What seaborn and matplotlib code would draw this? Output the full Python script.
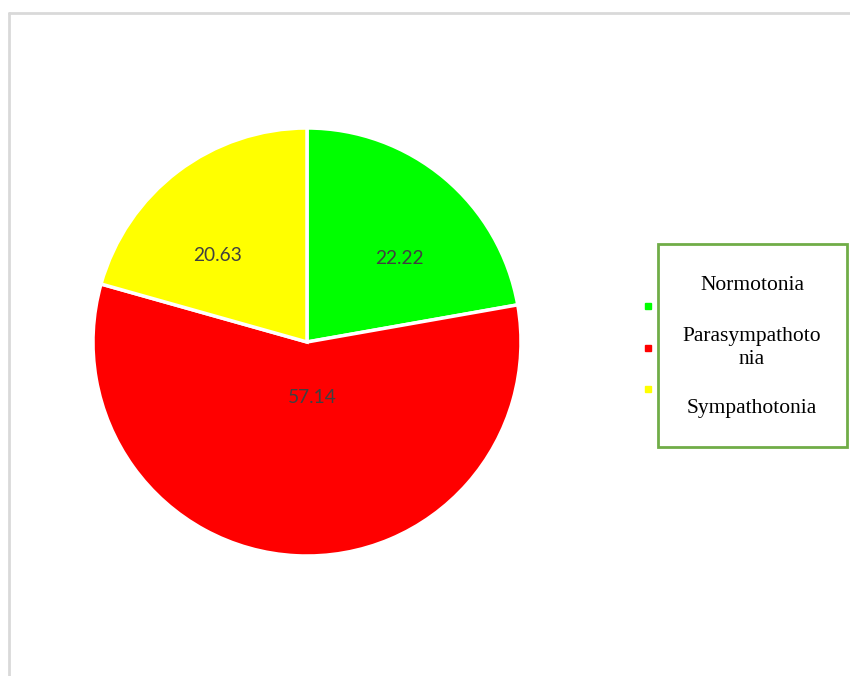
import matplotlib
matplotlib.use("Agg")
import matplotlib.pyplot as plt
import numpy as np
import seaborn as sns
from matplotlib.patches import Rectangle
from matplotlib.lines import Line2D

sns.set_theme(style="white")

categories = ["Normotonia", "Parasympathotonia", "Sympathotonia"]
legend_labels = ["Normotonia", "Parasympathoto\nnia", "Sympathotonia"]
values = [22.22, 57.14, 20.63]
value_labels = ["22.22", "57.14", "20.63"]
colors = ["#00ff00", "#ff0000", "#ffff00"]
label_dist = [0.59, 0.25, 0.59]
label_shift = [-7, 9, 8]

W, H = 850, 676
fig = plt.figure(figsize=(W / 100, H / 100), dpi=100)
fig.patch.set_facecolor("white")

# outer light-gray frame (top and left edges)
fig.add_artist(Line2D([9 / W, 1.0], [1 - 12.5 / H, 1 - 12.5 / H], color="#d9d9d9", lw=2, transform=fig.transFigure))
fig.add_artist(Line2D([9 / W, 9 / W], [0, 1 - 12.5 / H], color="#d9d9d9", lw=2, transform=fig.transFigure))

cx, cy, r = 307, 342, 214
ax = fig.add_axes([(cx - r) / W, (H - cy - r) / H, 2 * r / W, 2 * r / H])
wedges, _ = ax.pie(values, colors=colors, startangle=90, counterclock=False,
                   wedgeprops=dict(edgecolor="white", linewidth=2.5))
ax.set_xlim(-1, 1)
ax.set_ylim(-1, 1)
ax.set_aspect("equal")
ax.axis("off")

for w, lab, d, s in zip(wedges, value_labels, label_dist, label_shift):
    ang = np.deg2rad((w.theta1 + w.theta2) / 2 + s)
    ax.text(d * np.cos(ang), d * np.sin(ang) - 0.01, lab, ha="center", va="center",
            fontsize=13.8, color="#404040", family=["Lato", "DejaVu Sans"])

# legend box
fig.add_artist(Rectangle((658 / W, 1 - 447 / H), (847 - 658) / W, (447 - 244) / H,
                         transform=fig.transFigure, facecolor="white",
                         edgecolor="#70ad47", lw=2))
text_y = [285, 348, 409]
marker_y = [306, 348, 389]
for lab, ty, my, c in zip(legend_labels, text_y, marker_y, colors):
    fig.text(752 / W, 1 - ty / H, lab, ha="center", va="center", fontsize=15.5,
             family=["Liberation Serif", "DejaVu Serif"], color="black", linespacing=1.25)
    fig.add_artist(Line2D([648 / W], [1 - my / H], marker="s", markersize=5,
                          color=c, linestyle="none", transform=fig.transFigure))

fig.savefig("out.png", dpi=100)
